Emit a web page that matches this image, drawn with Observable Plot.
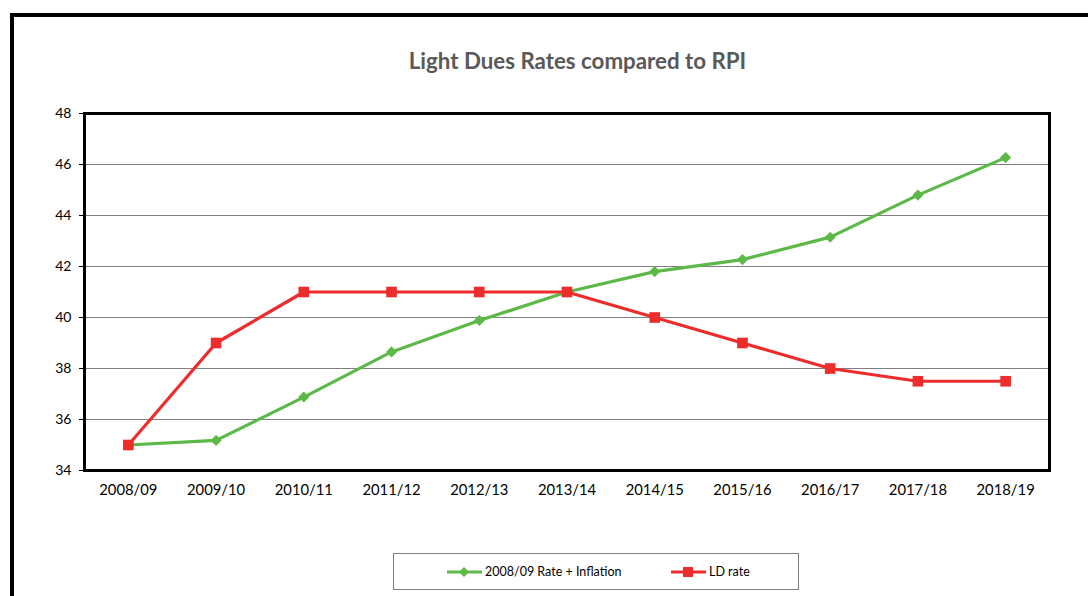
<!DOCTYPE html>
<html>
<head>
<meta charset="utf-8">
<script src="https://cdn.jsdelivr.net/npm/d3@7"></script>
<script src="https://cdn.jsdelivr.net/npm/@observablehq/plot@0.6"></script>
<style>
  html, body { margin: 0; padding: 0; background: #fff; }
  #wrap { position: relative; width: 1088px; height: 596px; overflow: hidden; font-family: Lato, "Open Sans", sans-serif; }
  #border { position: absolute; left: 10px; top: 13px; width: 1200px; height: 700px; border-top: 4px solid #000; border-left: 4px solid #000; box-sizing: border-box; }
  #title { position: absolute; left: 0; width: 1155px; top: 47px; text-align: center; font-size: 22.3px; font-weight: bold; color: #595959; }
  #chart { position: absolute; left: 0; top: 0; }
  #legend { position: absolute; left: 393px; top: 553px; width: 406px; height: 37px; border: 1px solid #7f7f7f; box-sizing: border-box; display: flex; align-items: center; font-size: 12.5px; color: #000; }
  .item { position: absolute; display: flex; align-items: center; }
</style>
</head>
<body>
<div id="wrap">
  <div id="border"></div>
  <div id="chart"></div>
  <div id="title">Light Dues Rates compared to RPI</div>
  <div id="legend"></div>
</div>
<script>
const years = ["2008/09","2009/10","2010/11","2011/12","2012/13","2013/14","2014/15","2015/16","2016/17","2017/18","2018/19"];
const rateInflation = [35.0, 35.18, 36.88, 38.65, 39.88, 41.0, 41.8, 42.27, 43.15, 44.8, 46.27];
const ldRate = [35, 39, 41, 41, 41, 41, 40, 39, 38, 37.5, 37.5];
const yTicks = [34, 36, 38, 40, 42, 44, 46, 48];
const seriesNames = ["2008/09 Rate + Inflation", "LD rate"];
const colors = ["#5cb947", "#ee2c2c"];

const rows = [];
years.forEach((y, i) => {
  rows.push({year: y, value: rateInflation[i], series: seriesNames[0]});
  rows.push({year: y, value: ldRate[i], series: seriesNames[1]});
});
const green = rows.filter(d => d.series === seriesNames[0]);
const red = rows.filter(d => d.series === seriesNames[1]);

const chart = Plot.plot({
  width: 1088,
  height: 596,
  marginLeft: 84,
  marginRight: 39,
  marginTop: 113,
  marginBottom: 126,
  style: { fontFamily: "Lato, 'Open Sans', sans-serif", fontSize: "14px", color: "#000", background: "transparent" },
  x: { type: "point", domain: years, padding: 0.5, round: false, label: null },
  y: { domain: [34, 48], ticks: yTicks, label: null },
  marks: [
    Plot.gridY(yTicks, { stroke: "#7f7f7f", strokeOpacity: 1, strokeWidth: 1.2 }),
    Plot.axisY(yTicks, { tickSize: 5, tickPadding: 8, fontSize: 14, stroke: "#000", tickFormat: d => d }),
    Plot.axisX(years, { tickSize: 0, tickPadding: 14, fontSize: 14.8 }),
    Plot.line(green, { x: "year", y: "value", stroke: colors[0], strokeWidth: 3.2 }),
    Plot.line(red, { x: "year", y: "value", stroke: colors[1], strokeWidth: 3.2 }),
    Plot.dot(green, { x: "year", y: "value", symbol: "diamond2", r: 5, fill: colors[0], stroke: null }),
    Plot.dot(red, { x: "year", y: "value", symbol: "square", r: 6, fill: colors[1], stroke: null }),
    Plot.frame({ stroke: "#000", strokeWidth: 3 })
  ]
});
document.getElementById("chart").appendChild(chart);

// legend
const legend = document.getElementById("legend");
const lpos = [53, 277];
seriesNames.forEach((name, i) => {
  const item = document.createElement("div");
  item.className = "item";
  item.style.left = lpos[i] + "px";
  const sym = i === 0
    ? `<path d="M17,-5 L22,0 L17,5 L12,0 Z" fill="${colors[i]}"/>`
    : `<rect x="12" y="-5" width="10" height="10" fill="${colors[i]}"/>`;
  item.innerHTML = `<svg width="36" height="12" viewBox="0 -6 36 12" style="overflow:visible"><line x1="0" y1="0" x2="35" y2="0" stroke="${colors[i]}" stroke-width="3"/>${sym}</svg><span style="margin-left:2px">${name}</span>`;
  legend.appendChild(item);
});
</script>
</body>
</html>
